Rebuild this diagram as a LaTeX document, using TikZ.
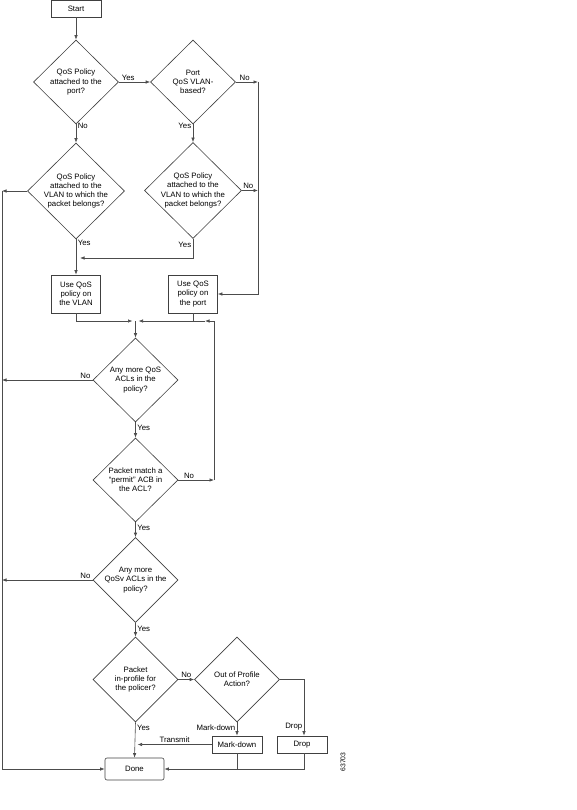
\documentclass[tikz,border=0pt]{standalone}
\usepackage{fontspec}
\setmainfont{Liberation Sans}
\usetikzlibrary{positioning,shapes.geometric,arrows.meta}
\tikzset{
  >={Latex[length=4.5pt,width=3.4pt]},
  line/.style={draw=black!70, line width=0.6pt},
  box/.style={rectangle, draw=black!75, line width=0.6pt, align=center,
    font=\fontsize{7.8}{9.2}\selectfont, inner sep=1pt},
  decision/.style={diamond, draw=black!75, line width=0.6pt, align=center,
    font=\fontsize{7.8}{9.2}\selectfont, inner sep=-1pt, aspect=1},
  lbl/.style={font=\fontsize{7.8}{9}\selectfont, inner sep=1.5pt},
}

\begin{document}
\begin{tikzpicture}[x=1pt, y=-1pt]
  \useasboundingbox (0,0) rectangle (576,810);
  % boxes and decisions
  \node[box, minimum width=50pt, minimum height=17pt] (start) at (76,8.5) {Start};
  \node[decision, minimum width=85pt, minimum height=84pt] (qport) at (76,82)
    {QoS Policy\\attached to the\\port?};
  \node[decision, minimum width=85pt, minimum height=84pt] (vlanbased) at (193,82)
    {Port\\QoS VLAN-\\based?};
  \node[decision, minimum width=97pt, minimum height=96pt] (qvlanr) at (193,190.5)
    {QoS Policy\\attached to the\\VLAN to which the\\packet belongs?};
  \node[decision, minimum width=97pt, minimum height=96pt] (qvlanl) at (76,191)
    {QoS Policy\\attached to the\\VLAN to which the\\packet belongs?};
  \node[box, minimum width=49pt, minimum height=38pt] (usevlan) at (76,294)
    {Use QoS\\policy on\\the VLAN};
  \node[box, minimum width=49pt, minimum height=38pt] (useport) at (193,294)
    {Use QoS\\policy on\\the port};
  \node[decision, minimum width=85pt, minimum height=84pt] (moreacl) at (135.5,380)
    {Any more QoS\\ACLs in the\\policy?};
  \node[decision, minimum width=85pt, minimum height=84pt] (permit) at (135.5,480)
    {Packet match a\\``permit'' ACB in\\the ACL?};
  \node[decision, minimum width=85pt, minimum height=85pt] (moreqosv) at (135.5,580)
    {Any more\\QoSv ACLs in the\\policy?};
  \node[decision, minimum width=85pt, minimum height=85pt] (inprofile) at (135.5,679.5)
    {Packet\\in-profile for\\the policer?};
  \node[decision, minimum width=85pt, minimum height=85pt] (outprofile) at (237,679.5)
    {Out of Profile\\Action?};
  \node[box, minimum width=50pt, minimum height=17pt] (markdown) at (237,744.5) {Mark-down};
  \node[box, minimum width=50pt, minimum height=17pt] (drop) at (302,744.5) {Drop};
  \node[box, rounded corners=2pt, minimum width=59pt, minimum height=22pt] (done) at (134.5,769) {Done};
  \node[lbl, rotate=90, font=\fontsize{6.8}{7}\selectfont] (fignum) at (343,762) {63703};

  % rails and junctions
  \coordinate (rtop) at (258,82);
  \coordinate (rmid) at (258,190.5);
  \coordinate (lrail) at (2,191);
  \coordinate (merge) at (135.5,321);
  \coordinate (loopb) at (214,480);
  \coordinate (loopm) at (205,321);

  % connectors
  \draw[line, ->] (start) -- (qport);
  \draw[line, ->] (qport.east) -- node[lbl, above, pos=0.3] {Yes} (vlanbased.west);
  \draw[line, ->] (vlanbased.east) -- node[lbl, above, pos=0.4] {No} (rtop);
  \draw[line, ->] (rtop) |- (useport.east);
  \draw[line, ->] (qvlanr.east) -- node[lbl, above, pos=0.4] {No} (rmid);
  \draw[line, ->] (qport.south) -- node[lbl, right, pos=0.1] {No} (qvlanl.north);
  \draw[line, ->] (vlanbased.south) -- node[lbl, left, pos=0.1] {Yes} (qvlanr.north);
  \draw[line, ->] (qvlanr.south) |- node[lbl, left, pos=0.15] {Yes} ([xshift=4pt]qvlanl.south |- 0,258);
  \draw[line, ->] (qvlanl.south) -- node[lbl, right, pos=0.1] {Yes} (usevlan.north);
  \draw[line, ->] (qvlanl.west) -- (lrail);
  \draw[line, ->] (lrail) |- (done.west);
  \draw[line, ->] (usevlan.south) |- ([xshift=-3pt]merge);
  \draw[line, ->] (useport.south) |- ([xshift=3pt]merge);
  \draw[line, ->] (merge) -- (moreacl.north);
  \draw[line, ->] (moreacl.west) -- node[lbl, above, pos=0.08] {No} (lrail |- moreacl.west);
  \draw[line, ->] (moreacl.south) -- node[lbl, right, pos=0.35] {Yes} (permit.north);
  \draw[line, ->] (permit.east) -- node[lbl, above, pos=0.3] {No} (loopb);
  \draw[line, ->] (loopb) |- (loopm);
  \draw[line] (loopm) -- (useport.south |- loopm);
  \draw[line, ->] (permit.south) -- node[lbl, right, pos=0.35] {Yes} (moreqosv.north);
  \draw[line, ->] (moreqosv.west) -- node[lbl, above, pos=0.08] {No} (lrail |- moreqosv.west);
  \draw[line, ->] (moreqosv.south) -- node[lbl, right, pos=0.4] {Yes} (inprofile.north);
  \draw[line, ->] (inprofile.east) -- node[lbl, above, pos=0.5] {No} (outprofile.west);
  \draw[line, ->] (inprofile.south) -- node[lbl, right, pos=0.15] {Yes} (done.north);
  \draw[line, ->] (outprofile.south) -- node[lbl, left, pos=0.4] {Mark-down} (markdown.north);
  \draw[line, ->] (outprofile.east) -| node[lbl, left, pos=0.92] {Drop} ([xshift=2pt]drop.north);
  \draw[line, ->] (markdown.west) -- node[lbl, above, pos=0.5] {Transmit} ([xshift=3pt]done.north |- markdown.west);
  \draw[line] (markdown.south) -- (markdown.south |- done.east);
  \draw[line, ->] ([xshift=2pt]drop.south) |- (done.east);
\end{tikzpicture}
\end{document}
